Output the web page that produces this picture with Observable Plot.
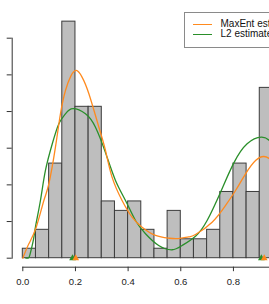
<!DOCTYPE html>
<html>
<head>
<meta charset="utf-8">
<script src="https://cdn.jsdelivr.net/npm/d3@7"></script>
<script src="https://cdn.jsdelivr.net/npm/@observablehq/plot@0.6"></script>
<style>
  html, body { margin: 0; padding: 0; background: white; }
  #wrap { position: relative; width: 269px; height: 304px; overflow: hidden; background: white; font-family: "Liberation Sans", Arial, Helvetica, sans-serif; }
  .lg-box { position: absolute; left: 184px; top: 11.5px; width: 120px; height: 34px; border: 1px solid #8a8a8a; background: white; }
  .lg-line { position: absolute; left: 193px; width: 19px; height: 0; }
  .lg-text { position: absolute; left: 220.5px; font-size: 10px; line-height: 12px; color: #111; white-space: nowrap; }
</style>
</head>
<body>
<div id="wrap"></div>
<script>
// Histogram (bin width 0.05), counts
const binStarts = [0.00,0.05,0.10,0.15,0.20,0.25,0.30,0.35,0.40,0.45,0.50,0.55,0.60,0.65,0.70,0.75,0.80,0.85,0.90,0.95];
const binCounts = [1,3,10,25,16,16,6,5,6,3,1,5,2,2,3,7,10,7,18,9];
const binWidth = 0.05;

// MaxEnt estimate curve
const maxentX = [0.000,0.023,0.051,0.080,0.099,0.124,0.143,0.162,0.182,0.203,0.225,0.251,0.289,0.314,0.339,0.377,0.415,0.453,0.504,0.554,0.590,0.630,0.656,0.719,0.770,0.808,0.846,0.884,0.915,0.937,0.955];
const maxentY = [0.000,0.196,0.423,0.787,1.015,1.514,1.969,2.287,2.480,2.560,2.470,2.242,1.786,1.469,1.105,0.787,0.559,0.423,0.310,0.273,0.268,0.290,0.323,0.491,0.719,0.923,1.151,1.332,1.387,1.356,1.290];

// L2 estimate curve
const l2X = [0.012,0.022,0.028,0.041,0.049,0.067,0.086,0.112,0.137,0.162,0.190,0.238,0.276,0.314,0.352,0.390,0.428,0.466,0.516,0.567,0.605,0.656,0.700,0.751,0.801,0.852,0.906,0.937,0.955];
const l2Y = [0.000,0.005,0.060,0.265,0.446,0.787,1.196,1.560,1.833,1.969,2.040,1.969,1.786,1.440,1.060,0.787,0.514,0.333,0.173,0.115,0.173,0.300,0.514,0.900,1.296,1.560,1.650,1.605,1.540];

// Modes (triangles on the baseline)
const maxentModes = [0.201, 0.917];
const l2Modes = [0.189, 0.906];

const xTicks = [0, 0.2, 0.4, 0.6, 0.8, 1.0];
const xTickLabelsShown = [0, 0.2, 0.4, 0.6, 0.8];
const yTicks = [0, 0.5, 1, 1.5, 2, 2.5, 3];

const legendLabels = ["MaxEnt estimate", "L2 estimate"];
const colMaxent = "#ff8a1e";
const colL2 = "#2a8f2a";

const total = d3.sum(binCounts);
const bins = binStarts.map((s, i) => ({x1: s, x2: s + binWidth, density: binCounts[i] / (total * binWidth)}));
const maxent = maxentX.map((x, i) => ({x, y: maxentY[i]}));
const l2 = l2X.map((x, i) => ({x, y: l2Y[i]}));

const chart = Plot.plot({
  width: 269,
  height: 304,
  marginLeft: 11.7,
  marginTop: 37.7,
  marginBottom: 46.3,
  marginRight: 0,
  x: {domain: [0, 1], range: [22.3, 285.6]},
  y: {domain: [0, 3], range: [257.7, 37.7]},
  style: {fontFamily: "'Liberation Sans', Arial, Helvetica, sans-serif", fontSize: "9.5px", background: "white", color: "#222", overflow: "hidden"},
  marks: [
    Plot.rectY(bins, {x1: "x1", x2: "x2", y: "density", fill: "#bebebe", stroke: "#3c3c3c", strokeWidth: 1}),
    Plot.line(l2, {x: "x", y: "y", stroke: colL2, strokeWidth: 1.3, curve: "natural"}),
    Plot.line(maxent, {x: "x", y: "y", stroke: colMaxent, strokeWidth: 1.3, curve: "natural"}),
    Plot.dot(l2Modes, {x: d => d, y: () => 0, symbol: "triangle", r: 2.5, fill: colL2, stroke: "none"}),
    Plot.dot(maxentModes, {x: d => d, y: () => 0, symbol: "triangle", r: 2.5, fill: colMaxent, stroke: "none"}),
    Plot.axisY({ticks: yTicks, tickSize: 5, tickFormat: () => "", anchor: "left", label: null, stroke: "#333"}),
    Plot.frame({anchor: "left", stroke: "#333"}),
    Plot.axisX({ticks: xTickLabelsShown, tickSize: 4.5, tickPadding: 7, tickFormat: d3.format(".1f"), anchor: "bottom", label: null, dy: 9, stroke: "#333"}),
    Plot.ruleY([0], {x1: d3.min(xTicks), x2: d3.max(xTicks), dy: 9, stroke: "#333"})
  ]
});

const wrap = document.getElementById("wrap");
wrap.appendChild(chart);

// Legend overlay (inside the plot area, top right)
const box = document.createElement("div");
box.className = "lg-box";
wrap.appendChild(box);
[colMaxent, colL2].forEach((c, i) => {
  const cy = 24 + i * 10.7;
  const ln = document.createElement("div");
  ln.className = "lg-line";
  ln.style.top = (cy - 0.5) + "px";
  ln.style.borderTop = "1px solid " + c;
  wrap.appendChild(ln);
  const tx = document.createElement("div");
  tx.className = "lg-text";
  tx.style.top = (cy - 6.5) + "px";
  tx.textContent = legendLabels[i];
  wrap.appendChild(tx);
});
</script>
</body>
</html>
